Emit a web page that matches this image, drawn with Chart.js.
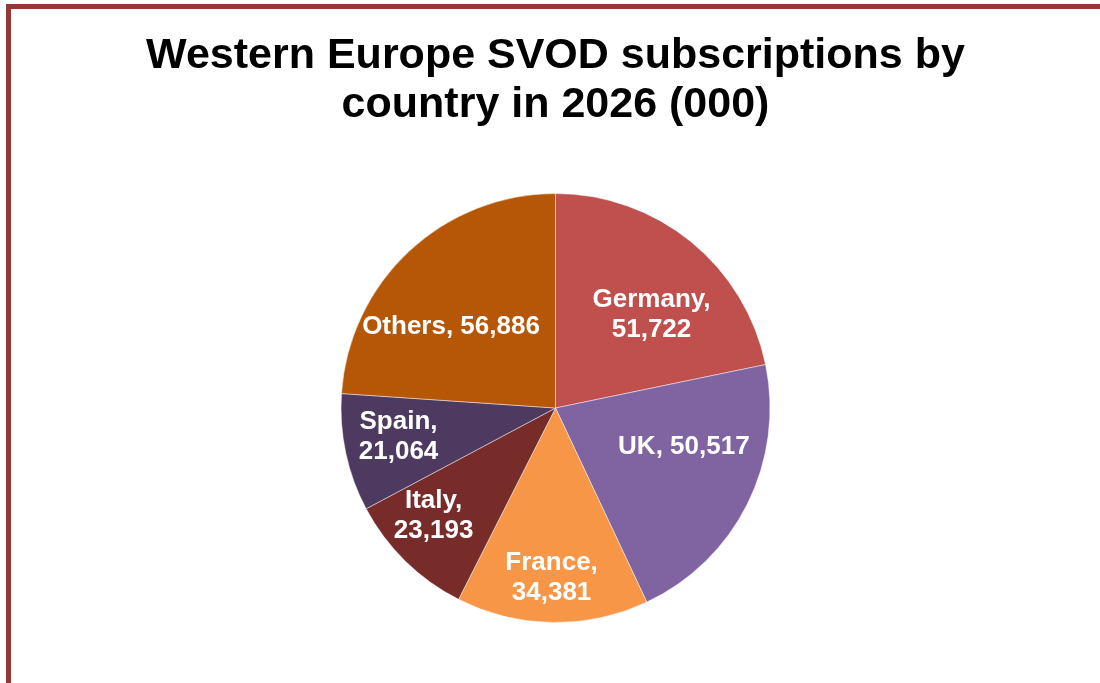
<!DOCTYPE html>
<html>
<head>
<meta charset="utf-8">
<script src="https://cdn.jsdelivr.net/npm/chart.js@4.4.0/dist/chart.umd.min.js"></script>
<style>
    html, body { margin: 0; padding: 0; background: #fff; overflow: hidden; }
    #frame {
        position: absolute; left: 6px; top: 4px;
        width: 1200px; height: 800px;
        border-top: 5px solid #953735; border-left: 5px solid #953735;
    }
    #wrap { position: absolute; left: 0; top: 0; width: 1089px; height: 674px; }
</style>
</head>
<body>
<div id="frame"><div id="wrap"><canvas id="pieChart"></canvas></div></div>
<script>
const countries = ['Germany', 'UK', 'France', 'Italy', 'Spain', 'Others'];
const subscriptions = [51722, 50517, 34381, 23193, 21064, 56886];
const sliceColors = ['#C0504D', '#8064A2', '#F79646', '#772C2A', '#4E3A60', '#B65708'];

// label text lines per slice, and where to put them (angle shift in degrees, fraction of radius)
const labelLines = [
    ['Germany,', '51,722'],
    ['UK, 50,517'],
    ['France,', '34,381'],
    ['Italy,', '23,193'],
    ['Spain,', '21,064'],
    ['Others, 56,886']
];
const labelPlace = [
    { shift: 6.6, r: 0.625 },
    { shift: -9.8, r: 0.625 },
    { shift: 0.5, r: 0.79 },
    { shift: 4, r: 0.76 },
    { shift: 1.7, r: 0.744 },
    { shift: -9.2, r: 0.616 }
];

const sliceLabels = {
    id: 'sliceLabels',
    afterDatasetsDraw(chart) {
        const ctx = chart.ctx;
        const arcs = chart.getDatasetMeta(0).data;
        ctx.save();
        ctx.fillStyle = '#ffffff';
        ctx.font = 'bold 26px "Liberation Sans", Arial, sans-serif';
        ctx.textAlign = 'center';
        ctx.textBaseline = 'middle';
        arcs.forEach(function (arc, i) {
            const p = arc.getProps(['x', 'y', 'startAngle', 'endAngle', 'outerRadius'], true);
            const a = (p.startAngle + p.endAngle) / 2 + labelPlace[i].shift * Math.PI / 180;
            const r = p.outerRadius * labelPlace[i].r;
            const cx = p.x + Math.cos(a) * r;
            const cy = p.y + Math.sin(a) * r;
            const lines = labelLines[i];
            const lh = 30;
            lines.forEach(function (t, j) {
                ctx.fillText(t, cx, cy + (j - (lines.length - 1) / 2) * lh);
            });
        });
        ctx.restore();
    }
};

new Chart(document.getElementById('pieChart'), {
    type: 'pie',
    data: {
        labels: countries,
        datasets: [{
            data: subscriptions,
            backgroundColor: sliceColors,
            borderColor: 'rgba(255,255,255,0.45)',
            borderWidth: 1
        }]
    },
    options: {
        responsive: true,
        maintainAspectRatio: false,
        animation: false,
        layout: { padding: { top: 0, bottom: 60, left: 0, right: 0 } },
        plugins: {
            legend: { display: false },
            tooltip: { enabled: false },
            title: {
                display: true,
                text: ['Western Europe SVOD subscriptions by', 'country in 2026 (000)'],
                color: '#000000',
                font: { family: '"Liberation Sans", Arial, sans-serif', size: 43, weight: 'bold', lineHeight: 1.14 },
                padding: { top: 23, bottom: 63 }
            }
        }
    },
    plugins: [sliceLabels]
});
</script>
</body>
</html>
